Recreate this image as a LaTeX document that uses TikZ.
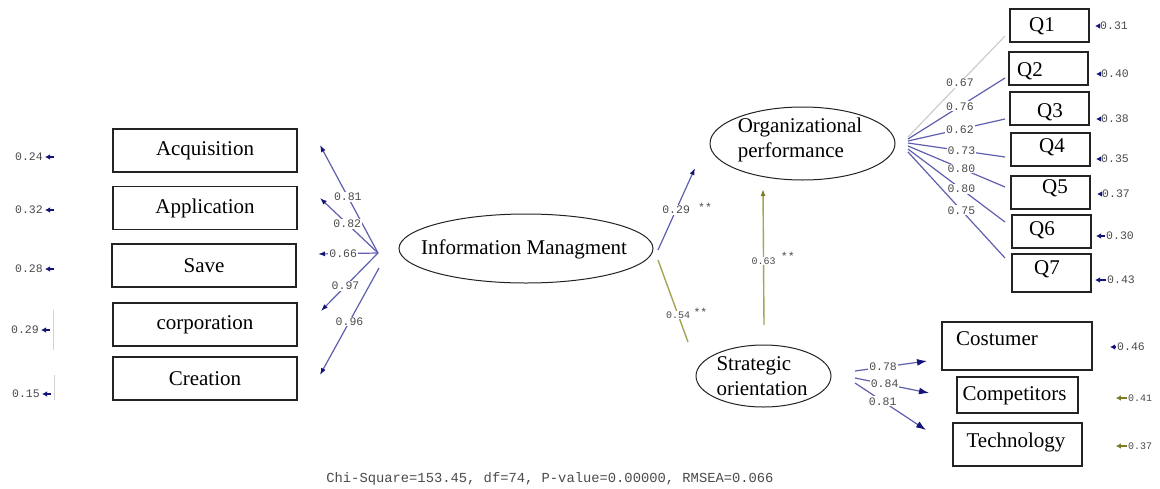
\documentclass[tikz,border=0pt]{standalone}
\usepackage{fontspec}
\setmainfont{Liberation Serif}
\newfontfamily\coefmono{Liberation Mono}
\usetikzlibrary{arrows.meta,shapes.geometric,calc}

\definecolor{pathblue}{RGB}{95,95,175}
\definecolor{headblue}{RGB}{20,20,120}
\definecolor{pathgray}{RGB}{205,205,205}
\definecolor{pathol}{RGB}{165,165,85}
\definecolor{headol}{RGB}{125,125,40}
\definecolor{numgray}{RGB}{75,75,75}
\definecolor{edgecol}{RGB}{35,35,35}

\newcommand{\bigtext}{\fontsize{21}{25}\selectfont}

\begin{document}
\begin{tikzpicture}[x=1pt,y=-1pt,
  obs/.style={draw=edgecol, line width=1.1pt, minimum width=184pt, minimum height=43pt, inner sep=0pt, font=\bigtext},
  qbox/.style={draw=edgecol, line width=1.1pt, minimum width=79pt, minimum height=33pt, inner sep=0pt},
  sbox/.style={draw=edgecol, line width=1.1pt, inner sep=0pt},
  latent/.style={ellipse, draw=edgecol, line width=1.0pt, inner sep=0pt},
  lbl/.style={font=\bigtext, inner sep=0pt, align=left},
  coef/.style={font=\coefmono\fontsize{11.5}{12}\selectfont, text=numgray, fill=white, inner sep=1pt},
  scoef/.style={font=\coefmono\fontsize{10}{10}\selectfont, text=numgray, fill=white, inner sep=1pt},
  stars/.style={font=\coefmono\fontsize{11.5}{12}\selectfont, text=numgray, inner sep=0pt},
  load/.style={draw=pathblue, line width=1.2pt},
  tohead/.style={-{Latex[length=7pt,width=5pt,color=headblue]}},
  bighead/.style={-{Latex[length=10pt,width=7pt,color=headblue]}},
  olpath/.style={draw=pathol, line width=1.4pt},
  res/.style={font=\coefmono\fontsize{11.5}{12}\selectfont, text=numgray, inner sep=0pt},
  reshead/.style={draw=headblue, line width=1.5pt, -{Latex[length=5pt,width=5.5pt]}},
  olhead/.style={draw=headol, line width=1.5pt, -{Latex[length=5pt,width=5.5pt]}},
  ]
\useasboundingbox[fill=white] (0,0) rectangle (1160,488);

% ---------- indicators of information management ----------
\node[obs] (acq) at (205,150.5) {Acquisition};
\node[obs] (app) at (205,208) {Application};
\node[obs] (sav) at (204,265.5) {Save};
\node[obs] (cor) at (205,324.5) {corporation};
\node[obs] (cre) at (205,378.5) {Creation};

% error terms on the left
\node[res] (r1) at (29,157) {0.24};
\node[res] (r2) at (29,210) {0.32};
\node[res] (r3) at (29,269) {0.28};
\node[res] (r4) at (25,330) {0.29};
\node[res] (r5) at (26,394) {0.15};
\foreach \r in {r1,r2,r3,r4,r5}
  \draw[reshead] ($(\r.east)+(11,0)$) -- ($(\r.east)+(2,0)$);
\draw[gray!35, line width=1pt] ($(r4.east)+(14,-20)$) -- ($(r4.east)+(14,20)$);
\draw[gray!35, line width=1pt] ($(r5.east)+(14,-19)$) -- ($(r5.east)+(14,6)$);

% ---------- latent variables ----------
\node[latent, minimum width=254pt, minimum height=69pt] (im) at (526,248.5) {};
\node[lbl] (imt) at (524,249) {Information Managment};
\node[latent, minimum width=185pt, minimum height=73pt] (op) at (802.5,143.5) {};
\node[lbl] (opt) at (800,140) {Organizational\\performance};
\node[latent, minimum width=135pt, minimum height=62pt] (so) at (763.5,376) {};
\node[lbl] (sot) at (762,376) {Strategic\\orientation};

% ---------- loadings of information management ----------
\coordinate (imL) at (378,253);
\coordinate (imL5) at (379,268);
\coordinate (acqH) at (320,145);
\coordinate (appH) at (320,198);
\coordinate (savH) at (318,254);
\coordinate (corH) at (321,311);
\coordinate (creH) at (320,375);
\draw[load,tohead] (imL) -- node[coef,pos=0.52]{0.81} (acqH);
\draw[load,tohead] (imL) -- node[coef,pos=0.53]{0.82} (appH);
\draw[load,tohead] (imL) -- node[coef,pos=0.58]{0.66} (savH);
\draw[load,tohead] (imL) -- node[coef,pos=0.57]{0.97} (corH);
\draw[load,tohead] (imL5) -- node[coef,pos=0.5]{0.96} (creH);

% ---------- structural paths ----------
\coordinate (imR1) at (658,250);
\coordinate (opIn) at (695,168);
\coordinate (imR2) at (658,260);
\coordinate (soTop) at (688,342);
\coordinate (soUp) at (764,325);
\coordinate (opDn) at (763,189);
\draw[load,tohead] (imR1) -- node[coef,pos=0.49,label={[stars,label distance=6pt,yshift=2pt]east:**}]{0.29} (opIn);
\draw[olpath] (imR2) -- node[scoef,pos=0.67,label={[stars,label distance=1pt,yshift=3pt]east:**}]{0.54} (soTop);
\draw[olpath,-{Latex[length=7pt,width=5pt,color=headol]}] (soUp) -- node[scoef,pos=0.47,label={[stars,label distance=3pt,yshift=5pt]east:**}]{0.63} (opDn);

% ---------- indicators of organizational performance ----------
\node[qbox] (q1) at (1049.5,25.5) {};
\node[qbox] (q2) at (1048.5,68.5) {};
\node[qbox] (q3) at (1049.5,108.5) {};
\node[qbox] (q4) at (1050.5,149.5) {};
\node[qbox] (q5) at (1050.5,192.5) {};
\node[qbox] (q6) at (1051.5,231.5) {};
\node[qbox, minimum height=38pt] (q7) at (1051.5,273) {};
\node[lbl] (q1t) at (1042,26) {Q1};
\node[lbl] (q2t) at (1030,71) {Q2};
\node[lbl] (q3t) at (1050,112) {Q3};
\node[lbl] (q4t) at (1052,147) {Q4};
\node[lbl] (q5t) at (1055,188) {Q5};
\node[lbl] (q6t) at (1042,230) {Q6};
\node[lbl] (q7t) at (1047,269) {Q7};

\coordinate (op0) at (908,143);
\coordinate (q1in) at (1005,36);
\coordinate (q2in) at (1005,78);
\coordinate (q3in) at (1005,119);
\coordinate (q4in) at (1005,157);
\coordinate (q5in) at (1005,187);
\coordinate (q6in) at (1005,222);
\coordinate (q7in) at (1005,258);
\draw[draw=pathgray, line width=1.2pt] ($(op0)+(0,-6)$) -- node[coef,pos=0.535]{0.67} (q1in);
\draw[load] ($(op0)+(0,-4)$) -- node[coef,pos=0.535]{0.76} (q2in);
\draw[load] ($(op0)+(0,-2)$) -- node[coef,pos=0.535]{0.62} (q3in);
\draw[load] ($(op0)+(0,0)$) -- node[coef,pos=0.55]{0.73} (q4in);
\draw[load] ($(op0)+(0,3)$) -- node[coef,pos=0.55]{0.80} (q5in);
\draw[load] ($(op0)+(0,6)$) -- node[coef,pos=0.55]{0.80} (q6in);
\draw[load] ($(op0)+(0,9)$) -- node[coef,pos=0.55]{0.75} (q7in);

% error terms of Q1--Q7
\node[res] (e1) at (1114,26) {0.31};
\node[res] (e2) at (1115,74) {0.40};
\node[res] (e3) at (1115,119) {0.38};
\node[res] (e4) at (1115,159) {0.35};
\node[res] (e5) at (1116,194) {0.37};
\node[res] (e6) at (1120,236) {0.30};
\node[res] (e7) at (1121,280) {0.43};
\foreach \e in {e1,e2,e3,e4,e5}
  \draw[reshead] ($(\e.west)+(-1,0)$) -- ($(\e.west)+(-5,0)$);
\draw[reshead] ($(e6.west)+(-1,0)$) -- ($(e6.west)+(-10,0)$);
\draw[reshead] ($(e7.west)+(-1,0)$) -- ($(e7.west)+(-12,0)$);

% ---------- indicators of strategic orientation ----------
\node[sbox, minimum width=150pt, minimum height=48pt] (cos) at (1017,346) {};
\node[sbox, minimum width=121pt, minimum height=36pt] (com) at (1017.5,395) {};
\node[sbox, minimum width=129pt, minimum height=43pt] (tec) at (1017.5,444.5) {};
\node[lbl] (cost) at (997,339) {Costumer};
\node[lbl] (comt) at (1014.5,396) {Competitors};
\node[lbl] (tect) at (1016,442) {Technology};

\coordinate (cosIn) at (927,361);
\coordinate (comIn) at (929,393);
\coordinate (tecIn) at (926,430);
\draw[load,bighead] (855,371) -- node[coef,pos=0.39]{0.78} (cosIn);
\draw[load,bighead] (855,378) -- node[coef,pos=0.4]{0.84} (comIn);
\draw[load,bighead] (855,383) -- node[coef,pos=0.39]{0.81} (tecIn);

\node[res] (f1) at (1131,347) {0.46};
\node[res, font=\coefmono\fontsize{10}{10}\selectfont] (f2) at (1140,398) {0.41};
\node[res, font=\coefmono\fontsize{10}{10}\selectfont] (f3) at (1140,446) {0.37};
\draw[reshead] ($(f1.west)+(-1,0)$) -- ($(f1.west)+(-7,0)$);
\draw[olhead] ($(f2.west)+(-1,0)$) -- ($(f2.west)+(-12,0)$);
\draw[olhead] ($(f3.west)+(-1,0)$) -- ($(f3.west)+(-12,0)$);

% ---------- fit statistics ----------
\node[font=\coefmono\fontsize{13.8}{14}\selectfont, text=numgray, inner sep=0pt] (fit) at (550,479)
  {Chi-Square=153.45, df=74, P-value=0.00000, RMSEA=0.066};
\end{tikzpicture}
\end{document}
